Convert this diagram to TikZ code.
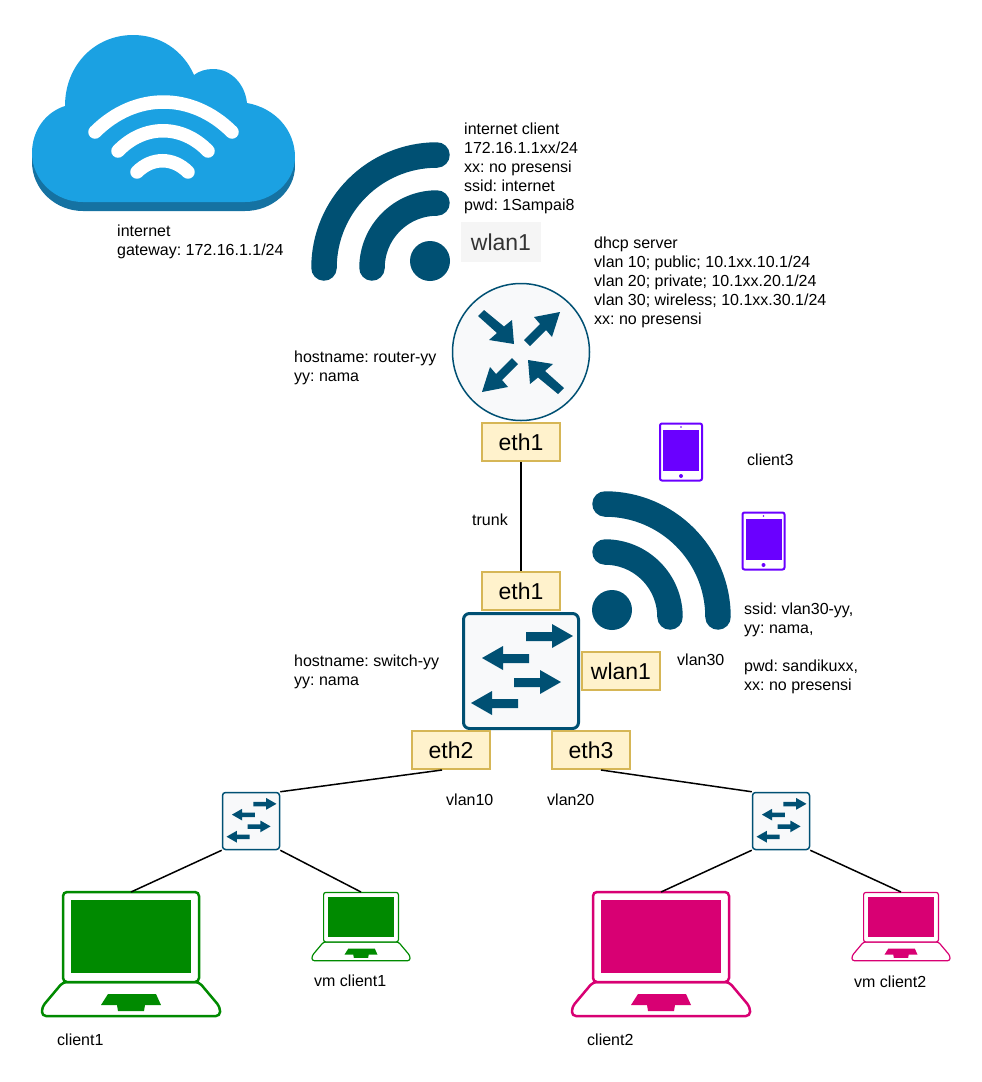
\documentclass[tikz,border=0pt]{standalone}
\usepackage{fontspec}
\setmainfont{Liberation Sans}
\frenchspacing
\definecolor{netblue}{HTML}{005073}
\definecolor{iconfill}{HTML}{F8F9FA}
\definecolor{cloudblue}{HTML}{1BA1E2}
\definecolor{cloudshade}{HTML}{1572A2}
\definecolor{portfill}{HTML}{FFF2CC}
\definecolor{portline}{HTML}{D6B656}
\definecolor{wlangrey}{HTML}{F5F5F5}
\definecolor{wlantext}{HTML}{333333}
\definecolor{clientgreen}{HTML}{008A00}
\definecolor{clientpink}{HTML}{D80073}
\definecolor{clientpurple}{HTML}{6A00FF}
\usetikzlibrary{positioning}

\begin{document}
\begin{tikzpicture}[x=1pt, y=-1pt,
		label_style/.style={anchor=west,inner sep=0pt,align=left,font=\fontsize{16}{19}\selectfont},
		port_style/.style={rectangle,draw=portline,fill=portfill,line width=2pt,minimum width=78pt,minimum height=38pt,inner sep=0pt,font=\fontsize{23}{27}\selectfont},
		edge_style/.style={draw=black,line width=1.5pt},
		swbox_style/.style={rectangle,rounded corners=#1,draw=netblue,fill=iconfill},
		wave_style/.style={draw=netblue,line width=25.5pt,line cap=round},
		cloudwave_style/.style={draw=white,line width=13.5pt,line cap=round},
		pics/wifi/.style={code={
			\draw[wave_style] (-113,0) arc[start angle=180,end angle=270,radius=113];
			\draw[wave_style] (-65,0) arc[start angle=180,end angle=270,radius=65];
			\fill[netblue] (-7,-7) circle[radius=20];
		}},
		pics/swarrows/.style={code={
			\foreach \tx/\ty/\dir in {52/-35/-1,-39/-13/1,40/11/-1,-50/32/1}
				\fill[netblue] (\tx,\ty) -- ++(\dir*21,-12) -- ++(0,8) -- ++(\dir*26,0) -- ++(0,9) -- ++(-\dir*26,0) -- ++(0,7) -- cycle;
		}},
		pics/laptop/.style={code={
			\draw[#1,fill=white,line join=round] (-68,29) -- (-89,54) -- (-89,63) -- (89,63) -- (89,54) -- (68,29) -- cycle;
			\draw[#1,fill=white] (-68,-61) rectangle (68,29);
			\fill[#1,sharp corners] (-60,-53) rectangle (60,20);
			\fill[#1,sharp corners] (-23,41) -- (25,41) -- (30,52) -- (14,52) -- (13,58) -- (-13,58) -- (-14,52) -- (-30,52) -- cycle;
		}},
		pics/tablet/.style={code={
			\draw[clientpurple,line width=2pt,fill=white,rounded corners=2] (-21,-28.5) rectangle (21,28.5);
			\fill[clientpurple] (-18,-22) rectangle (18,19);
			\fill[clientpurple] (0,-25) circle[radius=.9];
			\fill[clientpurple] (0,24) circle[radius=2];
		}}]

		\useasboundingbox (0,0) rectangle (982,1082);

		% cloud
		\def\cloudpath{(65,106) .. controls (65,65) and (95,35) .. (133,35) .. controls (160,35) and (183,50) .. (194,75) .. controls (199,71) and (206,69) .. (213,69) .. controls (231,69) and (245,84) .. (247,103) .. controls (275,108) and (295,130) .. (295,157) .. controls (295,182) and (272,202) .. (245,202) -- (83,202) .. controls (55,202) and (32,180) .. (32,153) .. controls (32,130) and (46,112) .. (65,106) -- cycle}
		\fill[cloudshade,shift={(0,9)}] \cloudpath;
		\fill[cloudshade] (32,156) rectangle (295,164);
		\fill[cloudblue] \cloudpath;
		\draw[cloudwave_style] (95,132) .. controls (135,92) and (192,92) .. (232,132);
		\draw[cloudwave_style] (118,151) .. controls (144,124) and (182,124) .. (208,151);
		\draw[cloudwave_style] (137,172) .. controls (152,157) and (173,157) .. (188,172);

		% wifi signs
		\pic at (437,268) {wifi};
		\pic[xscale=-1] at (605,617) {wifi};

		% router
		\node[circle,draw=netblue,fill=iconfill,line width=1.5pt,minimum size=137pt,inner sep=0pt] (router) at (521,352) {};
		\foreach \a in {0,180}{
			\fill[netblue,shift={(521,352)},rotate=\a] (-7,-8) -- (-32,-12) -- (-24,-19) -- (-43,-36) -- (-37,-42) -- (-17,-25.5) -- (-9,-32) -- cycle;
			\fill[netblue,shift={(521,352)},rotate=\a] (39,-40) -- (13,-35) -- (19,-28) -- (3,-12) -- (9,-6) -- (25,-22) -- (31,-15) -- cycle;
		}

		% switches
		\node[swbox_style=6pt,line width=3pt,minimum size=115pt] (switch) at (521,671) {};
		\pic at (521,671) {swarrows};
		\node[swbox_style=3pt,line width=1.5pt,minimum size=57pt] (sw1) at (251,821) {};
		\pic[scale=.49] at (251,821) {swarrows};
		\node[swbox_style=3pt,line width=1.5pt,minimum size=57pt] (sw2) at (781,821) {};
		\pic[scale=.49] at (781,821) {swarrows};

		% ports
		\node[fill=wlangrey,text=wlantext,minimum width=80pt,minimum height=40pt,inner sep=0pt,font=\fontsize{23}{27}\selectfont] (wlanrouter) at (501,242) {wlan1};
		\node[port_style] (ethrouter) at (521,442) {eth1};
		\node[port_style] (ethswitch) at (521,591) {eth1};
		\node[port_style] (wlanswitch) at (621,671) {wlan1};
		\node[port_style] (eth2) at (451,750) {eth2};
		\node[port_style] (eth3) at (591,750) {eth3};

		% clients
		\pic at (131,953) {laptop={clientgreen,line width=2.5pt,rounded corners=4}};
		\coordinate (client1) at (131,892);
		\pic[scale=.55] at (361,926) {laptop={clientgreen,line width=1.2pt,rounded corners=2.2}};
		\coordinate (vmclient1) at (361,892);
		\pic at (661,953) {laptop={clientpink,line width=2.5pt,rounded corners=4}};
		\coordinate (client2) at (661,892);
		\pic[scale=.55] at (901,926) {laptop={clientpink,line width=1.2pt,rounded corners=2.2}};
		\coordinate (vmclient2) at (901,892);
		\pic at (681,452) {tablet};
		\pic at (763.5,541) {tablet};

		% links
		\draw[edge_style] (ethrouter) -- (ethswitch);
		\draw[edge_style] (eth2.south) ++(-9,0) coordinate (eth2out) (eth2out) -- (sw1.north east);
		\draw[edge_style] (eth3.south) ++(10,0) coordinate (eth3out) (eth3out) -- (sw2.north west);
		\draw[edge_style] (sw1.south west) -- (client1);
		\draw[edge_style] (sw1.south east) -- (vmclient1);
		\draw[edge_style] (sw2.south west) -- (client2);
		\draw[edge_style] (sw2.south east) -- (vmclient2);

		% labels
		\node[label_style] (inetlabel) at (117,242) {internet\\gateway: 172.16.1.1/24};
		\node[label_style] (clientlabel) at (464,168) {internet client\\172.16.1.1xx/24\\xx: no presensi\\ssid: internet\\pwd: 1Sampai8};
		\node[label_style] (dhcplabel) at (594,282) {dhcp server\\vlan 10; public; 10.1xx.10.1/24\\vlan 20; private; 10.1xx.20.1/24\\vlan 30; wireless; 10.1xx.30.1/24\\xx: no presensi};
		\node[label_style] (routerlabel) at (294,368) {hostname: router-yy\\yy: nama};
		\node[label_style] (trunklabel) at (472,520) {trunk};
		\node[label_style] (client3label) at (747,460) {client3};
		\node[label_style] (vlan30label) at (677,660) {vlan30};
		\node[label_style] (ssidlabel) at (744,648) {ssid: vlan30-yy,\\yy: nama,\\[19pt]pwd: sandikuxx,\\xx: no presensi};
		\node[label_style] (switchlabel) at (294,671.5) {hostname: switch-yy\\yy: nama};
		\node[label_style] (vlan10label) at (446,800) {vlan10};
		\node[label_style] (vlan20label) at (547,800) {vlan20};
		\node[label_style] (client1label) at (57,1040) {client1};
		\node[label_style] (vm1label) at (314,981) {vm client1};
		\node[label_style] (client2label) at (587,1040) {client2};
		\node[label_style] (vm2label) at (854,982) {vm client2};

\end{tikzpicture}
\end{document}
